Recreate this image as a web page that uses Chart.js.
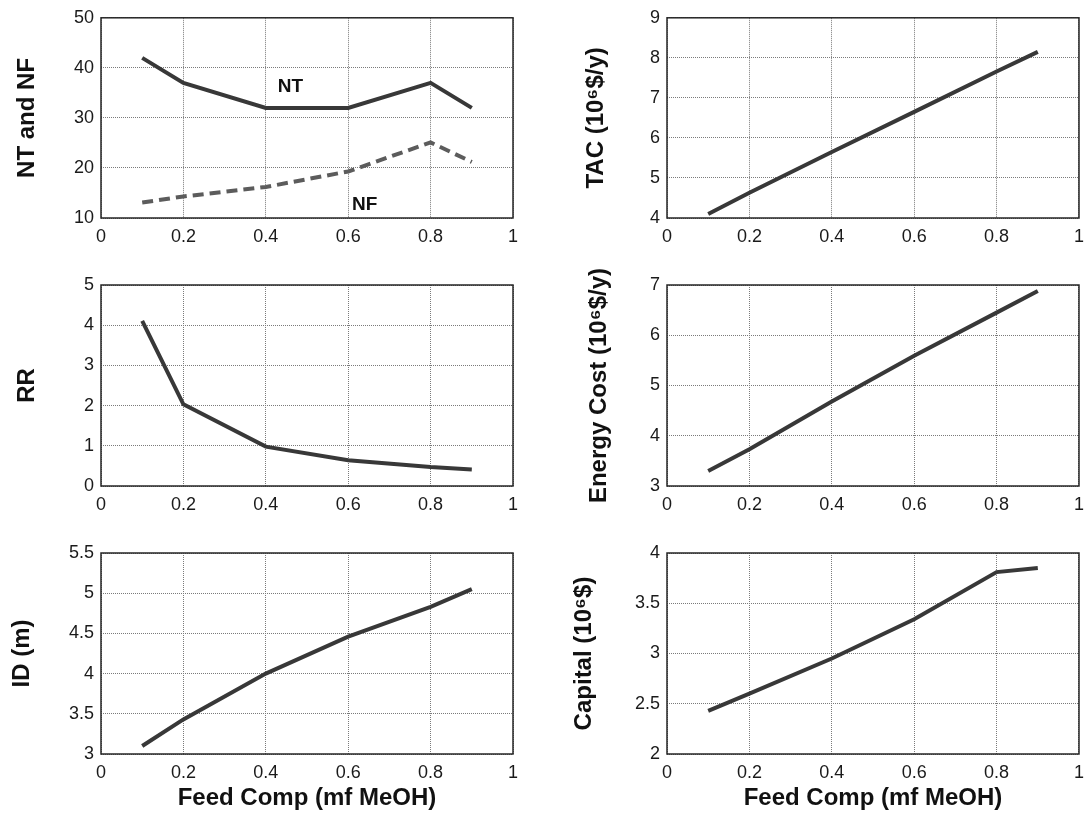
<!DOCTYPE html>
<html>
<head>
<meta charset="utf-8">
<script src="https://cdn.jsdelivr.net/npm/chart.js"></script>
<style>
  html, body { margin: 0; padding: 0; background: #fff; overflow: hidden; }
  body { width: 1084px; height: 813px; position: relative; }
  .panel { position: absolute; }
</style>
</head>
<body>
<div class="panel" style="left:0;top:0;width:540px;height:265px"><canvas id="c1"></canvas></div>
<div class="panel" style="left:540px;top:0;width:552px;height:265px"><canvas id="c2"></canvas></div>
<div class="panel" style="left:0;top:265px;width:540px;height:265px"><canvas id="c3"></canvas></div>
<div class="panel" style="left:540px;top:265px;width:552px;height:265px"><canvas id="c4"></canvas></div>
<div class="panel" style="left:0;top:530px;width:540px;height:283px"><canvas id="c5"></canvas></div>
<div class="panel" style="left:540px;top:530px;width:552px;height:283px"><canvas id="c6"></canvas></div>
<script>
// feed composition (mole fraction MeOH)
const feedComp = [0.1, 0.2, 0.4, 0.6, 0.8, 0.9];

const ntStages = [42, 37, 32, 32, 37, 32];
const nfStage = [13.1, 14.3, 16.2, 19.3, 25.1, 21.2];
const tac = [4.1, 4.63, 5.65, 6.65, 7.66, 8.15];
const refluxRatio = [4.11, 2.03, 0.98, 0.64, 0.47, 0.41];
const energyCost = [3.3, 3.73, 4.68, 5.59, 6.45, 6.88];
const diameter = [3.1, 3.43, 4.0, 4.46, 4.83, 5.05];
const capital = [2.43, 2.6, 2.95, 3.34, 3.81, 3.85];

// in-plot text labels (top-left panel)
const noteText = ['NT', 'NF'];
const noteX = [0.46, 0.64];
const noteY = [36.3, 12.6];

const FONT = "'Liberation Sans', Arial, Helvetica, sans-serif";
const LINE = '#383838';

const fmt = v => String(+Number(v).toFixed(2));

// box around the plot area, like matlab
const framePlugin = {
    id: 'frame',
    afterDraw(chart) {
        const a = chart.chartArea, ctx = chart.ctx;
        ctx.save();
        ctx.strokeStyle = '#262626';
        ctx.lineWidth = 1.5;
        ctx.strokeRect(a.left, a.top, a.right - a.left, a.bottom - a.top);
        ctx.restore();
    }
};

const notePlugin = {
    id: 'notes',
    afterDatasetsDraw(chart, args, opts) {
        if (!opts.show) return;
        const ctx = chart.ctx;
        ctx.save();
        ctx.font = "bold 19px " + FONT;
        ctx.fillStyle = '#111';
        ctx.textAlign = 'center';
        ctx.textBaseline = 'middle';
        noteText.forEach((t, i) => {
            ctx.fillText(t, chart.scales.x.getPixelForValue(noteX[i]), chart.scales.y.getPixelForValue(noteY[i]));
        });
        ctx.restore();
    }
};

function makeChart(id, datasets, yOpts) {
    return new Chart(document.getElementById(id), {
        type: 'line',
        data: { datasets: datasets },
        plugins: [framePlugin, notePlugin],
        options: {
            responsive: true,
            maintainAspectRatio: false,
            animation: false,
            layout: { padding: { left: 0, top: yOpts.top, right: yOpts.right, bottom: 0 } },
            plugins: {
                legend: { display: false },
                tooltip: { enabled: false },
                notes: { show: !!yOpts.notes }
            },
            elements: { point: { radius: 0 }, line: { tension: 0, borderCapStyle: 'butt' } },
            scales: {
                x: {
                    type: 'linear',
                    min: 0, max: 1,
                    afterFit: s => { s.height = yOpts.xHeight; },
                    ticks: {
                        stepSize: 0.2,
                        padding: 8,
                        autoSkip: false,
                        maxRotation: 0,
                        color: '#1a1a1a',
                        font: { family: FONT, size: 18 },
                        callback: fmt
                    },
                    grid: { color: '#7a7a7a', lineWidth: 1, drawTicks: false },
                    border: { display: false, dash: [1, 1] },
                    title: {
                        display: !!yOpts.xTitle,
                        text: 'Feed Comp (mf MeOH)',
                        color: '#111',
                        font: { family: FONT, size: 24, weight: 'bold', lineHeight: 1.2 },
                        padding: { top: 0, bottom: 0 }
                    }
                },
                y: {
                    min: yOpts.min, max: yOpts.max,
                    afterFit: s => { s.width = yOpts.yWidth; },
                    ticks: {
                        stepSize: yOpts.step,
                        padding: 7,
                        color: '#1a1a1a',
                        font: { family: FONT, size: 18 },
                        callback: fmt
                    },
                    grid: { color: '#7a7a7a', lineWidth: 1, drawTicks: false },
                    border: { display: false, dash: [1, 1] },
                    title: {
                        display: true,
                        text: yOpts.title,
                        color: '#111',
                        font: { family: FONT, size: 24, weight: 'bold', lineHeight: 1.2 },
                        padding: { top: yOpts.titlePad, bottom: 0 }
                    }
                }
            }
        }
    });
}

const pts = ys => feedComp.map((x, i) => ({ x: x, y: ys[i] }));
const solid = ys => ({ data: pts(ys), borderColor: LINE, borderWidth: 4 });

makeChart('c1', [
    solid(ntStages),
    { data: pts(nfStage), borderColor: '#5c5c5c', borderWidth: 4, borderDash: [11, 6] }
], { title: 'NT and NF', min: 10, max: 50, step: 10, top: 17, right: 27, yWidth: 101, xHeight: 47, titlePad: 13, notes: true });

makeChart('c2', [solid(tac)],
    { title: 'TAC (10\u2076$/y)', min: 4, max: 9, step: 1, top: 17, right: 11, yWidth: 127, xHeight: 47, titlePad: 42 });

makeChart('c3', [solid(refluxRatio)],
    { title: 'RR', min: 0, max: 5, step: 1, top: 20, right: 27, yWidth: 101, xHeight: 44, titlePad: 13 });

makeChart('c4', [solid(energyCost)],
    { title: 'Energy Cost (10\u2076$/y)', min: 3, max: 7, step: 1, top: 20, right: 11, yWidth: 127, xHeight: 44, titlePad: 45 });

makeChart('c5', [solid(diameter)],
    { title: 'ID (m)', min: 3, max: 5.5, step: 0.5, top: 23, right: 27, yWidth: 101, xHeight: 59, titlePad: 8, xTitle: true });

makeChart('c6', [solid(capital)],
    { title: 'Capital (10\u2076$)', min: 2, max: 4, step: 0.5, top: 23, right: 11, yWidth: 127, xHeight: 59, titlePad: 30, xTitle: true });
</script>
</body>
</html>
